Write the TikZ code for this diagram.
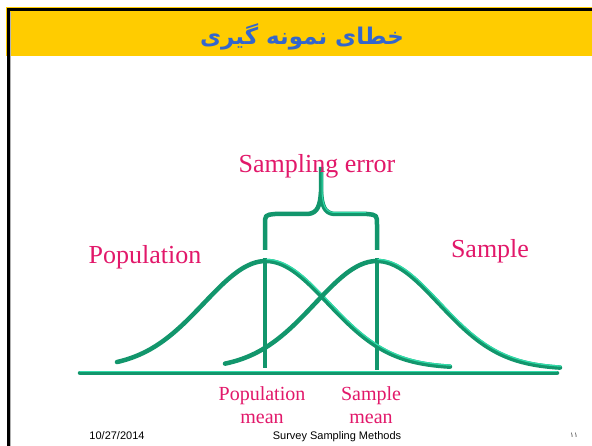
\documentclass[tikz,border=0pt]{standalone}
\usepackage{fontspec}
\setmainfont{Liberation Serif}
\newfontfamily\arabicfont[Script=Arabic]{DejaVu Sans}
\newfontfamily\footfont{Liberation Sans}
\TeXXeTstate=1
\definecolor{bandyellow}{RGB}{255,204,0}
\definecolor{titleblue}{RGB}{51,102,204}
\definecolor{pinktext}{RGB}{226,24,106}
\definecolor{tealdark}{RGB}{18,150,108}
\definecolor{teallight}{RGB}{50,220,170}
\tikzset{
  tube/.style={draw=tealdark, line width=4.5pt, line cap=round, line join=round},
  tubehi/.style={draw=teallight, line width=1.3pt, line cap=round, line join=round},
  bigred/.style={text=pinktext, font=\fontsize{26}{28}\selectfont, inner sep=0pt},
  smallred/.style={text=pinktext, font=\fontsize{20}{23}\selectfont, inner sep=0pt, align=center},
  foot/.style={text=black, font=\footfont\fontsize{11}{12}\selectfont, inner sep=0pt}
}
\begin{document}
\begin{tikzpicture}[x=1pt,y=-1pt]
\useasboundingbox (0,0) rectangle (592,446);
\fill[white] (0,0) rectangle (592,446);
% title band
\fill[bandyellow] (6,7) rectangle (592,56);
\draw[black, line width=3pt] (8,446) -- (8,10) -- (592,10);
\draw[gray!60, line width=0.8pt] (10.2,446) -- (10.2,12);
\node[text=titleblue, font=\arabicfont\bfseries\fontsize{23}{26}\selectfont, inner sep=0pt] (title) at (302,37) {\beginR خطای نمونه گیری\endR};
% axis
\draw[tube] (80,373) -- (557,373);
\draw[tubehi] (80,371.5) -- (557,371.5);
% mean lines
\draw[tube, line cap=butt] (265,258) -- (265,368);
\draw[tube, line cap=butt] (377,258) -- (377,370);
% bell curves
\draw[tube] plot[domain=117:450, samples=90, smooth] (\x, {368 - 107*exp(-0.5*((\x-266)/62)^2)});
\draw[tubehi] plot[domain=266:450, samples=60, smooth] (\x+1, {366.5 - 107*exp(-0.5*((\x-266)/62)^2)});
\draw[tube] plot[domain=225:560, samples=90, smooth] (\x, {369 - 108*exp(-0.5*((\x-377)/62)^2)});
\draw[tubehi] plot[domain=377:560, samples=60, smooth] (\x+1, {367.5 - 108*exp(-0.5*((\x-377)/62)^2)});
% brace
\coordinate (bl) at (265,250);
\coordinate (br) at (377,250);
\coordinate (btip) at (321,167);
\draw[tube, line cap=butt] (bl) -- (265,225) .. controls (265,215) .. (275,214) -- (308,214) .. controls (318,213) and (320,205) .. (321,192) -- (btip);
\draw[tube, line cap=butt] (br) -- (377,225) .. controls (377,215) .. (367,214) -- (334,214) .. controls (324,213) and (322,205) .. (321,192);
\draw[teallight, line width=1pt] (322,170) -- (322,192) .. controls (323,205) and (325,212) .. (334,212.5) -- (366,212.5);
% labels
\node[bigred, anchor=base] (serr) at (317,173) {Sampling error};
\node[bigred, anchor=base] (pop) at (145,264) {Population};
\node[bigred, anchor=base] (samp) at (490,258) {Sample};
\node[smallred, anchor=base] (pmean) at (262,424) {Population\\mean};
\node[smallred, anchor=base] (smean) at (371,424) {Sample\\mean};
% footer
\node[foot, anchor=base] (date) at (117,439) {10/27/2014};
\node[foot, anchor=base] (ftitle) at (337,439) {Survey Sampling Methods};
\node[text=black!80, font=\arabicfont\fontsize{7}{8}\selectfont, inner sep=0pt, anchor=base] (pnum) at (574,437) {\beginR ١١\endR};
\end{tikzpicture}
\end{document}
